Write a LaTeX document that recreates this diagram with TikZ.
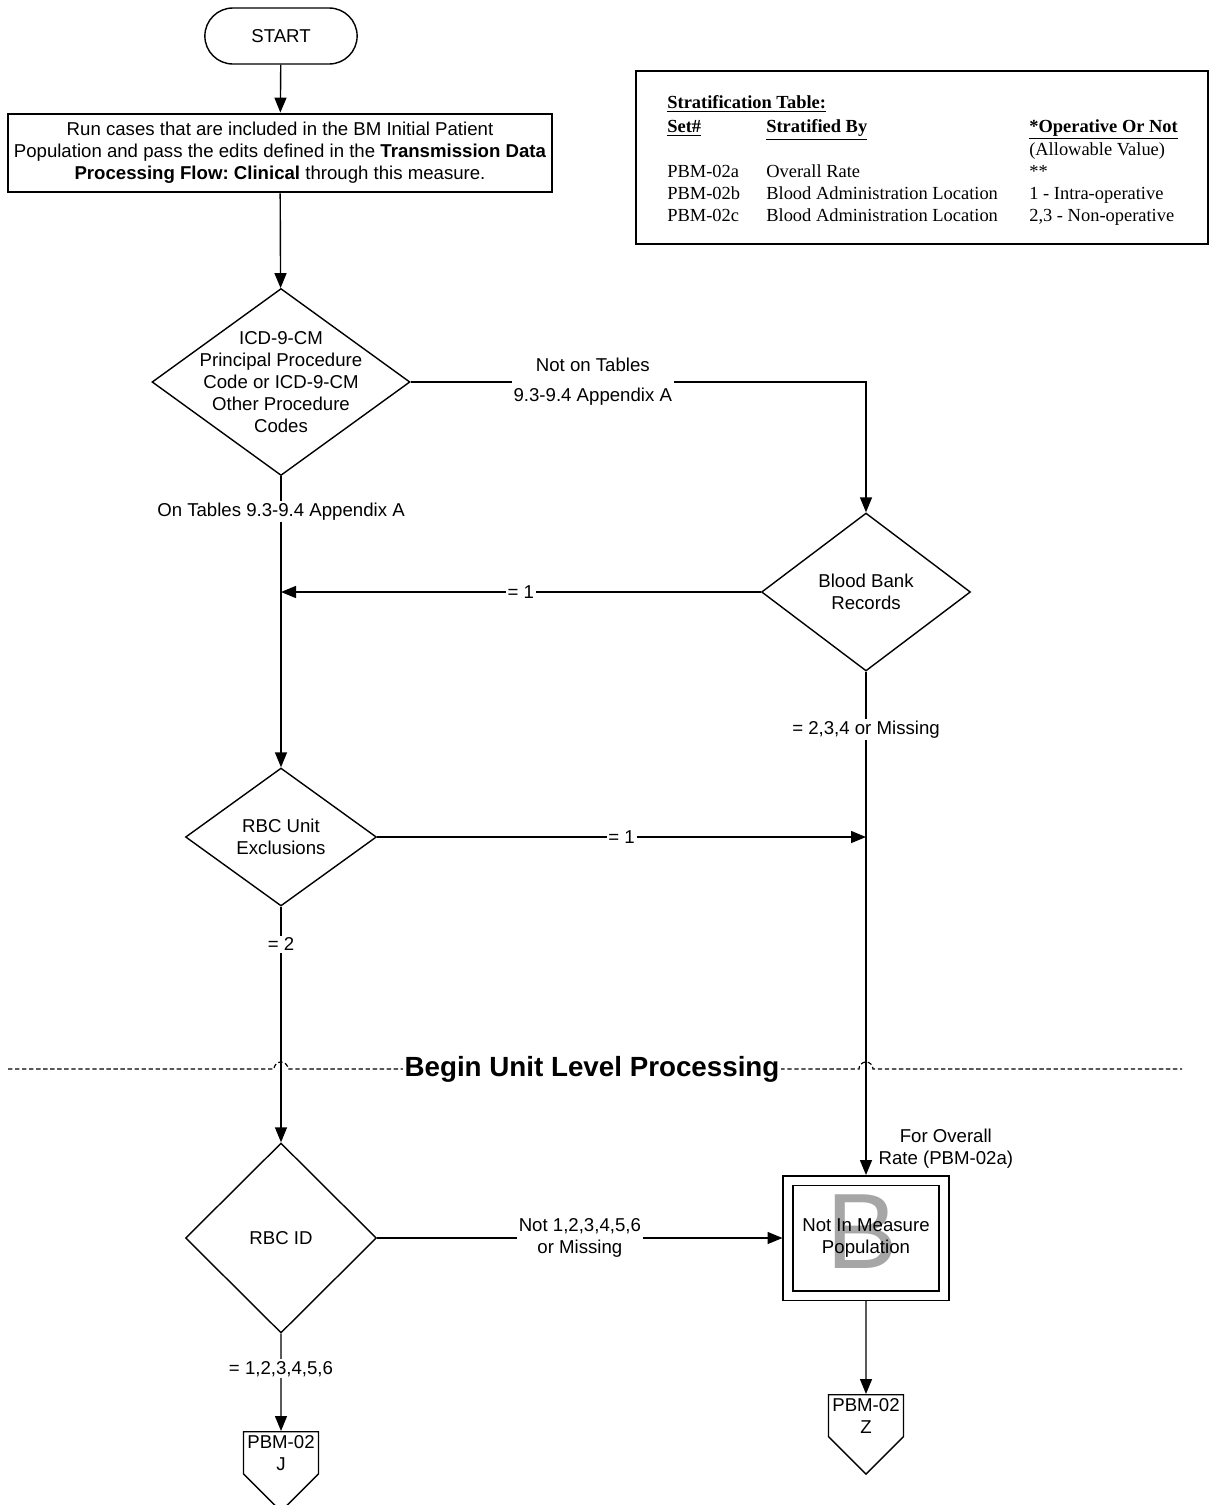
\documentclass[tikz,border=0pt]{standalone}
\usepackage{fontspec}
\setmainfont{Liberation Sans}
\newfontfamily\tabfont{Liberation Serif}
\usepackage{tikz}
\usetikzlibrary{shapes}
\usetikzlibrary{shapes.misc}
\usetikzlibrary{arrows.meta}
\frenchspacing

\begin{document}
\begin{tikzpicture}[x = 0.02cm, y = -0.02cm,
    font = \fontsize{10.6}{12.5}\selectfont,
    flow/.style = {line width = 0.8pt, -{Triangle[length = 0.3cm, width = 0.24cm]}},
    decision/.style = {diamond, draw, line width = 0.8pt, inner sep = 0pt, align = center},
    lbl/.style = {fill = white, inner sep = 1pt, align = center},
    offpage/.style = {signal, signal to = south, signal pointer angle = 90, draw,
                      line width = 0.8pt, align = center, minimum width = 1.5cm, inner sep = 2pt}]
\useasboundingbox (0, 0) rectangle (1210, 1505);

% stratification table
\draw[line width = 0.9pt] (636, 71) rectangle (1208, 244);
\node[anchor = north west, inner sep = 0pt, font = \tabfont\fontsize{10.5}{12.5}\selectfont] (strat) at (667, 93) {%
\begin{tabular}{@{}p{1.98cm}@{}p{5.26cm}@{}l@{}}
\multicolumn{3}{@{}l@{}}{\underline{\textbf{Stratification Table:}}}\\[1pt]
\underline{\textbf{Set\#}} & \underline{\textbf{Stratified By}} & \underline{\textbf{*Operative Or Not}}\\
 & & (Allowable Value)\\
PBM-02a & Overall Rate & **\\
PBM-02b & Blood Administration Location & 1 - Intra-operative\\
PBM-02c & Blood Administration Location & 2,3 - Non-operative
\end{tabular}};

% flow nodes
\node[rounded rectangle, draw, line width = 0.8pt, minimum width = 3.28cm, minimum height = 1.12cm] (start) at (281, 36) {START};
\node[draw, line width = 1.6pt, minimum width = 10.88cm, minimum height = 1.56cm, align = center] (run) at (280, 153)
    {Run cases that are included in the BM Initial Patient\\Population and pass the edits defined in the \textbf{Transmission Data}\\\textbf{Processing Flow: Clinical} through this measure.};
\node[decision, minimum width = 5.16cm, minimum height = 3.74cm] (icd) at (281, 382) {};
\node[align = center] (icdtext) at (icd) {ICD-9-CM\\Principal Procedure\\Code or ICD-9-CM\\Other Procedure\\Codes};
\node[decision, minimum width = 4.18cm, minimum height = 3.16cm] (bank) at (866, 592) {Blood Bank\\Records};
\node[decision, minimum width = 3.82cm, minimum height = 2.76cm] (unitx) at (281, 837) {RBC Unit\\Exclusions};
\node[decision, minimum width = 3.82cm, minimum height = 3.8cm] (rbcid) at (281, 1238) {RBC ID};
\node[text = black!35, inner sep = 0pt, font = \fontsize{61}{61}\selectfont] (bmark) at (862, 1232) {B};
\node[draw, double, line width = 0.9pt, double distance = 0.16cm, outer sep = 0.11cm,
      minimum width = 3.12cm, minimum height = 2.3cm, align = center] (notin) at (866, 1238) {Not In Measure\\Population};
\node[offpage, anchor = north] (offj) at (281, 1431) {PBM-02\\J};
\node[offpage, anchor = north] (offz) at (866, 1394) {PBM-02\\Z};

% unit level separator
\coordinate (sepl) at (8, 1069);
\coordinate (sepr) at (1182, 1069);
\draw[dashed, dash pattern = on 2.5pt off 1.5pt, line width = 0.7pt] (sepl) -- (274, 1069)
    arc[start angle = 180, end angle = 360, radius = 7] -- (859, 1069)
    arc[start angle = 180, end angle = 360, radius = 7] -- (sepr);
\node[fill = white, inner sep = 1pt, font = \bfseries\fontsize{15.8}{18}\selectfont] (unitlvl) at (592, 1069) {Begin Unit Level Processing};

% connectors
\draw[flow] (start) -- (run);
\draw[flow] (run) -- (icd);
\draw[flow] (icd.east) -| node[lbl, pos = 0.2] (lnoton) {Not on Tables\\[0.16cm]9.3-9.4 Appendix A} (bank.north);
\draw[flow] (icd) -- node[lbl, pos = 0.121] (lon) {On Tables 9.3-9.4 Appendix A} (unitx);
\draw[flow] (bank.west) -- node[lbl] (lbank) {= 1} (bank.west -| icd.south);
\draw[flow] (unitx.east) -- node[lbl] (lunitx) {= 1} (unitx.east -| bank.south);
\draw[flow] (bank) -- node[lbl, pos = 0.115] (lmiss) {= 2,3,4 or Missing}
    node[pos = 1, anchor = south west, xshift = 0.12cm, align = center] (lover) {For Overall\\Rate (PBM-02a)} (notin);
\draw[flow] (unitx) -- node[lbl, pos = 0.16] (ltwo) {= 2} (rbcid);
\draw[flow] (rbcid.east) -- node[lbl] (lnot) {Not 1,2,3,4,5,6\\or Missing} (notin.west);
\draw[flow] (rbcid) -- node[lbl, pos = 0.36] (lone) {= 1,2,3,4,5,6} (offj);
\draw[flow] (notin) -- (offz);
\end{tikzpicture}
\end{document}
